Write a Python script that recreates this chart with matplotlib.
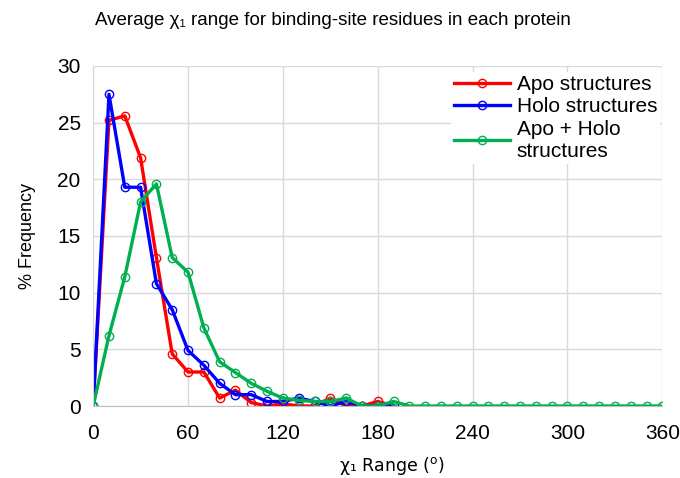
import numpy as np
import matplotlib.pyplot as plt

plt.rcParams['font.family'] = ['Liberation Sans', 'DejaVu Sans']

# dados
x = np.arange(0, 370, 10)
apo = [0, 25.2, 25.6, 21.9, 13.1, 4.6, 3.0, 3.0, 0.7, 1.4, 0.3, 0.0, 0.2, 0.0, 0.0, 0.7, 0.0, 0.0, 0.4, 0.0]
holo = [0, 27.5, 19.3, 19.3, 10.8, 8.5, 4.9, 3.6, 2.0, 1.0, 1.0, 0.4, 0.4, 0.7, 0.4, 0.0, 0.4, 0.0, 0.0, 0.0]
both = [0, 6.2, 11.4, 18.0, 19.6, 13.1, 11.8, 6.9, 3.9, 2.95, 2.0, 1.3, 0.7, 0.5, 0.4, 0.4, 0.7, 0.0, 0.0, 0.4] + [0] * 17

fig = plt.figure(figsize=(6.8, 4.78), dpi=100)
ax = fig.add_axes([0.137, 0.1506, 0.837, 0.7114])

estilo = dict(lw=2.4, marker='o', ms=6, mfc='none', mew=1)
ax.plot(x[:len(apo)], apo, color='#ff0000', label='Apo structures', **estilo)
ax.plot(x[:len(holo)], holo, color='#0000ff', label='Holo structures', **estilo)
ax.plot(x, both, color='#00b050', label='Apo + Holo\nstructures', **estilo)

ax.set_xlim(0, 360)
ax.set_ylim(0, 30)
ax.set_xticks(np.arange(0, 361, 60))
ax.set_yticks(np.arange(0, 31, 5))
ax.grid(color='#d9d9d9', lw=1)
ax.set_axisbelow(True)
for s in ['top', 'right']:
    ax.spines[s].set_visible(False)
ax.spines['left'].set_color('#d9d9d9')
ax.spines['bottom'].set_color('#bfbfbf')
ax.tick_params(length=0, labelsize=15)
ax.tick_params(axis='x', pad=13)
ax.tick_params(axis='y', pad=9)

ax.set_xlabel('χ\u2081 Range ($^{\\mathrm{o}}$)', fontsize=12.5, family='DejaVu Sans')
ax.xaxis.set_label_coords(0.524, -0.145)
ax.set_ylabel('% Frequency', fontsize=13, labelpad=15)
fig.suptitle('Average χ\u2081 range for binding-site residues in each protein', fontsize=13.5, x=0.49, y=0.975)

leg = ax.legend(loc='upper right', bbox_to_anchor=(1.0, 0.988), fontsize=15, frameon=True,
                framealpha=1, edgecolor='none', handlelength=2.7, borderpad=0.15,
                labelspacing=0.15, handletextpad=0.3, borderaxespad=0.1, fancybox=False)

fig.savefig('out.png', dpi=100)
